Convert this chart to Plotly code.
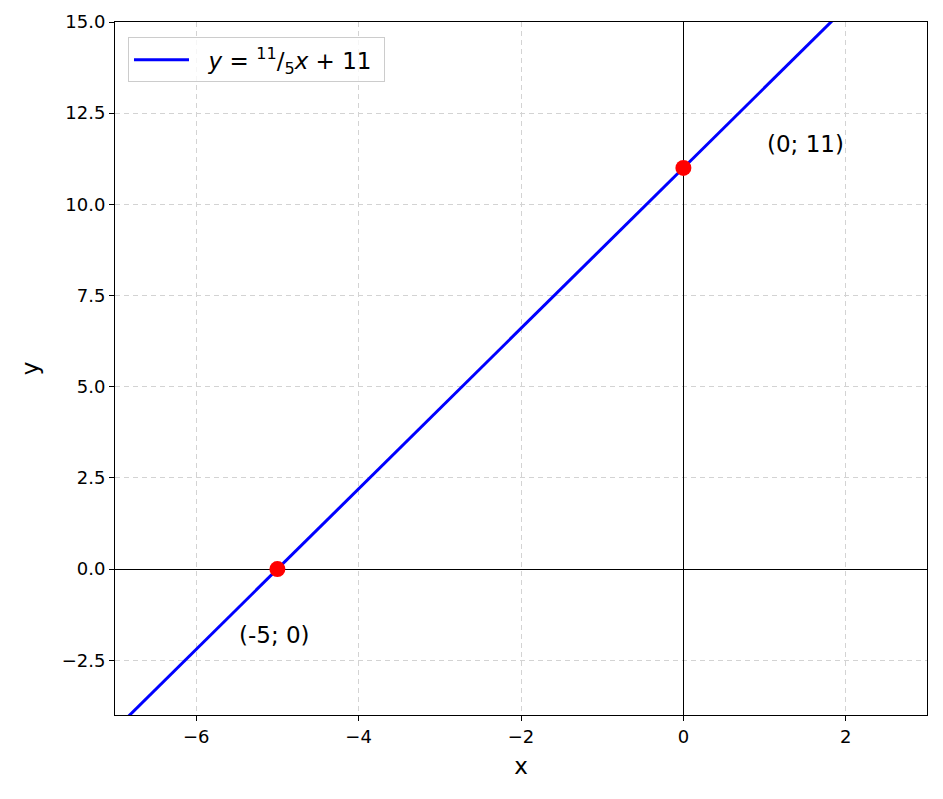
import plotly.graph_objects as go

# line y = 11/5 x + 11, drawn across the visible x range
line_x = [-7, 3]
line_y = [-4.4, 17.6]

# intercept points
point_x = [-5, 0]
point_y = [0, 11]
point_labels = ["(-5; 0)", "(0; 11)"]
label_x = [-5.5, 1.0]
label_y = [-1.8, 11.65]

x_ticks = [-6, -4, -2, 0, 2]
y_ticks = [-2.5, 0, 2.5, 5, 7.5, 10, 12.5, 15]

fig = go.Figure()

fig.add_trace(go.Scatter(
    x=line_x, y=line_y, mode="lines",
    line=dict(color="#0000ff", width=3),
    name="  <i>y</i> = <sup>11</sup>/<sub>5</sub><i>x</i> + 11 ",
))

fig.add_trace(go.Scatter(
    x=point_x, y=point_y, mode="markers",
    marker=dict(color="#ff0000", size=16),
    showlegend=False, cliponaxis=False,
))

for lx, ly, txt in zip(label_x, label_y, point_labels):
    fig.add_annotation(x=lx, y=ly, text=txt, showarrow=False,
                       xanchor="left", yanchor="middle",
                       font=dict(size=23, color="black"))

axis_common = dict(
    showgrid=True, gridcolor="#d3d3d3", griddash="5px,4px", gridwidth=1,
    zeroline=True, zerolinecolor="black", zerolinewidth=1,
    showline=True, linecolor="black", linewidth=1, mirror=True,
    ticks="outside", ticklen=5, tickcolor="black",
    tickfont=dict(size=18, color="black"),
)

fig.update_xaxes(range=[-7, 3], tickvals=x_ticks,
                 ticktext=[str(v).replace("-", "−") for v in x_ticks],
                 title=dict(text="x", font=dict(size=23, color="black"), standoff=12),
                 automargin="bottom",
                 **axis_common)
fig.update_yaxes(range=[-4, 15], tickvals=y_ticks,
                 ticktext=[f"{v:.1f}".replace("-", "−") for v in y_ticks],
                 title=dict(text="y", font=dict(size=23, color="black"), standoff=16),
                 automargin="left",
                 **axis_common)

# page body adds an 8px offset, so the figure is a bit smaller than the window
fig.update_layout(
    width=935, height=791,
    margin=dict(l=107, r=16, t=14, b=84),
    plot_bgcolor="white", paper_bgcolor="white",
    font=dict(family="DejaVu Sans", color="black"),
    legend=dict(x=0.016, y=0.978, xanchor="left", yanchor="top",
                bgcolor="rgba(255,255,255,0.8)", bordercolor="#cccccc", borderwidth=1,
                font=dict(size=23), itemwidth=55),
)

fig.write_html("out.html")
